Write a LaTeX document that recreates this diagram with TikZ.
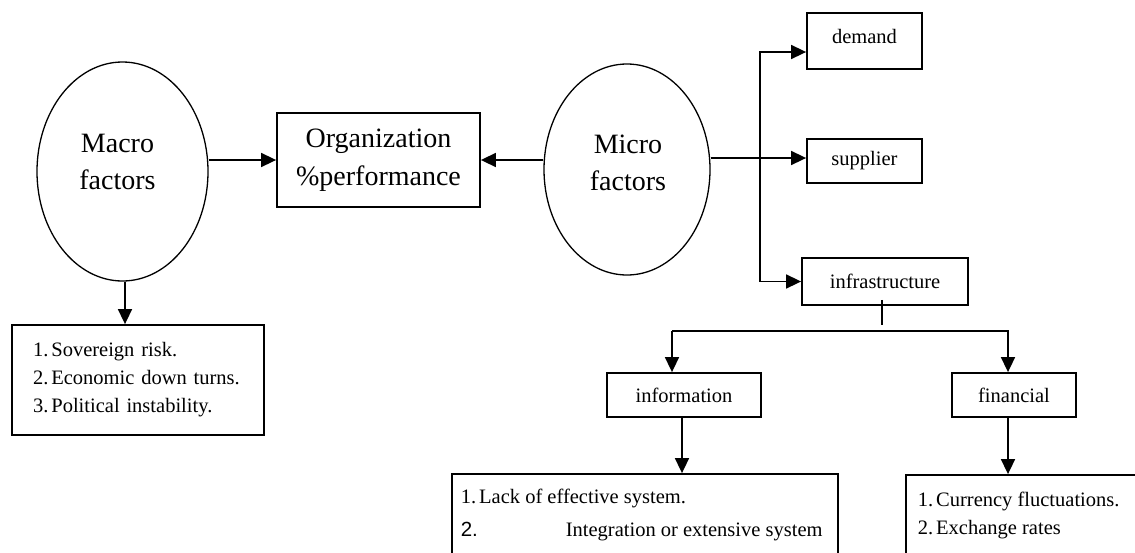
\documentclass[tikz,border=0pt]{standalone}
\usepackage{fontspec}
\setmainfont{Liberation Serif}
\newfontfamily\sansf{Liberation Sans}
\usetikzlibrary{arrows.meta,shapes.geometric}
\begin{document}
\begin{tikzpicture}[x=1pt,y=-1pt, line width=1.6pt,
  arr/.style={-{Triangle[length=15pt,width=14pt]}},
  box/.style={draw, rectangle, inner sep=0pt, line width=1.8pt},
  oval/.style={draw, ellipse, inner sep=0pt, line width=1.3pt},
  big/.style={font=\fontsize{28}{37}\selectfont, align=center, inner sep=0pt},
  small/.style={font=\fontsize{20.5}{25}\selectfont},
  txt/.style={small, anchor=base west, inner sep=0pt}]
\useasboundingbox (0,0) rectangle (1135,552);

% ellipses
\node[oval, minimum width=171pt, minimum height=219pt] (macro) at (122.5,171.5) {};
\node[big] (macrot) at (117.5,162) {Macro\\factors};
\node[oval, minimum width=166pt, minimum height=211pt] (micro) at (627,169.5) {};
\node[big] (microt) at (628,162.5) {Micro\\factors};

% main box
\node[box, big, minimum width=203pt, minimum height=94pt, font=\fontsize{28}{38}\selectfont] (org) at (378.5,160) {Organization\\\%performance};

% right boxes
\node[box, small, minimum width=115pt, minimum height=56pt] (demand) at (864.5,41) {\raisebox{-2pt}[0pt][0pt]{demand}};
\node[box, small, minimum width=115pt, minimum height=44pt] (supplier) at (864.5,161) {supplier};
\node[box, small, minimum width=166pt, minimum height=47pt] (infra) at (885,281.5) {infrastructure};
\node[box, small, minimum width=154pt, minimum height=44pt] (info) at (684,395) {information};
\node[box, small, minimum width=124pt, minimum height=44pt] (fin) at (1014,395) {financial};

% list boxes
\node[box, minimum width=252pt, minimum height=110pt, text width=210pt, align=left,
      font=\fontsize{20.5}{28}\selectfont] (mlist) at (138,380)
  {1.\hspace{3pt}Sovereign risk.\\2.\hspace{3pt}Economic down turns.\\3.\hspace{3pt}Political instability.};
\node[box, minimum width=386pt, minimum height=86pt] (ilist) at (645,517) {};
\node[box, minimum width=239pt, minimum height=85pt] (flist) at (1025.5,517.5) {};

\node[txt] (il1) at (460,503) {1.\hspace{3pt}Lack of effective system.};
\node[txt] (il2a) at (460,536) {\sansf 2.};
\node[txt] (il2b) at (565,536) {Integration or extensive system};
\node[txt] (fl1) at (917,506) {1.\hspace{3pt}Currency fluctuations.};
\node[txt] (fl2) at (917,534) {2.\hspace{3pt}Exchange rates};

% connectors
\draw[arr] (macro.east |- org.west) -- (org.west);
\draw[arr] (micro.west |- org.east) -- (org.east);

\path ([yshift=3pt]supplier.west) coordinate (supIn);
\path ([yshift=-11pt]demand.west) coordinate (demIn);
\coordinate (jx) at (760,0);
\draw[arr] (micro.east |- supIn) -- (supIn);
\draw[arr] (jx |- infra.west) |- (demIn);
\draw[arr] (jx |- infra.west) -- (infra.west);

\path ([xshift=-3pt,yshift=6pt]infra.south) coordinate (infS);
\draw (infS) -- ++(0,25) coordinate (infE);
\coordinate (hy) at (0,331);
\path ([xshift=-12pt]info.north) coordinate (iaT);
\path ([xshift=-6pt]fin.north) coordinate (faT);
\draw[arr] (iaT |- hy) -- (iaT);
\draw[arr] (iaT |- hy) -| (faT);

\path ([xshift=-2pt]info.south) coordinate (iaB);
\draw[arr] (iaB) -- (iaB |- ilist.north);
\path ([xshift=-6pt]fin.south) coordinate (faB);
\draw[arr] (faB) -- (faB |- flist.north);
\path ([xshift=2.5pt]macro.south) coordinate (mB);
\draw[arr] (mB) -- (mB |- mlist.north);
\end{tikzpicture}
\end{document}
